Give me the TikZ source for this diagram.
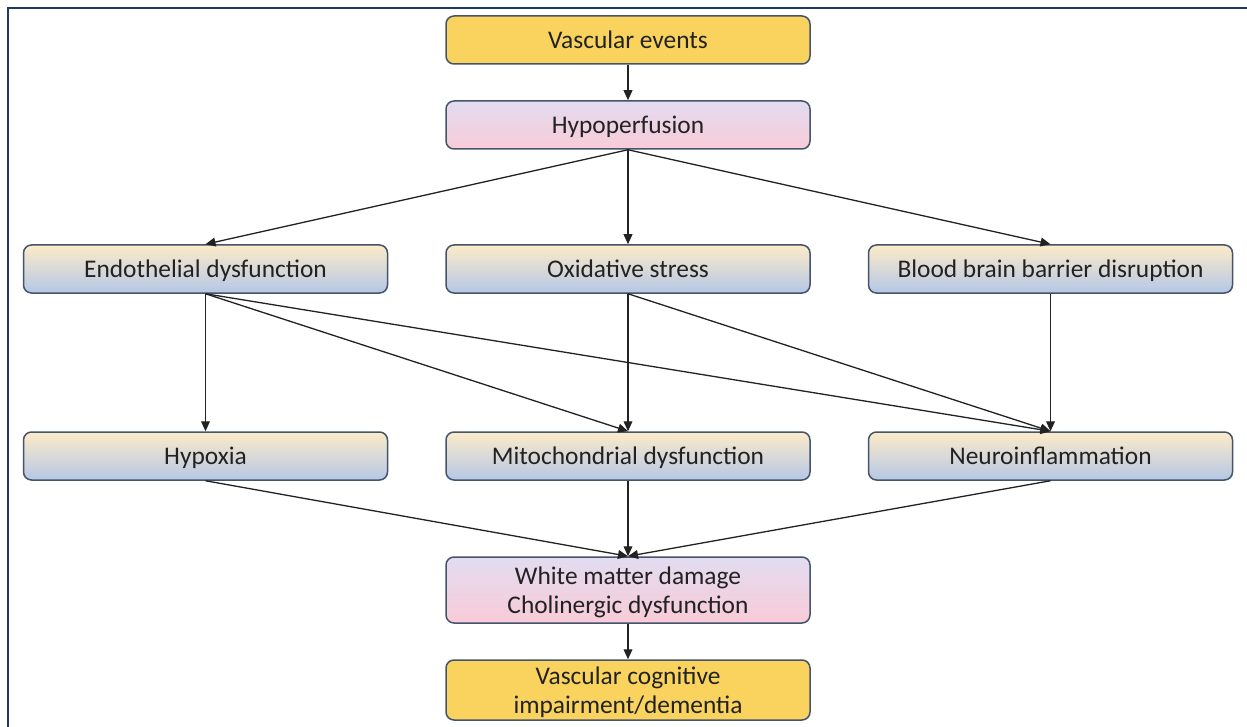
\documentclass[tikz,border=0pt]{standalone}
\usepackage{fontspec}
\setmainfont{Carlito}
\usetikzlibrary{arrows.meta, positioning, calc}
\definecolor{navy}{HTML}{1F3864}
\definecolor{edge}{HTML}{44546A}
\definecolor{ink}{HTML}{222222}
\definecolor{gold}{HTML}{FAD35F}
\definecolor{lilac}{HTML}{E2DCF1}
\definecolor{rose}{HTML}{F9CBD7}
\definecolor{cream}{HTML}{FDEBC9}
\definecolor{steel}{HTML}{B5C7E6}

\begin{document}
\begin{tikzpicture}[x=0.5pt, y=-0.5pt,
      box/.style={draw=edge, line width=0.75pt, rounded corners=4pt, align=center,
        minimum width=182pt, minimum height=24pt, inner sep=2pt, text=ink,
        text height=10pt, text depth=1.5pt,
        font=\fontsize{12.7}{14.5}\selectfont},
      twoline/.style={text height={}, text depth=0pt},
      goldbox/.style={box, fill=gold},
      pinkbox/.style={box, top color=lilac, bottom color=rose},
      bluebox/.style={box, top color=cream, bottom color=steel},
      arr/.style={-{Triangle[length=5pt, width=4.4pt]}, line width=0.65pt, color=ink},
      node distance=17.75pt and 28.5pt]
    \useasboundingbox (0,0) rectangle (1247,727);
    \fill[white] (0,0) rectangle (1247,727);
    \draw[navy, line width=1.3pt] (8,740) -- (8,8) -- (1260,8);
    % top of the chain
    \node[goldbox] (ve) at (628,40) {Vascular events};
    \node[pinkbox, below=of ve] (hp) {Hypoperfusion};
    % first row of mechanisms
    \node[bluebox, below=47.25pt of hp] (ox) {Oxidative stress};
    \node[bluebox, left=of ox] (ed) {Endothelial dysfunction};
    \node[bluebox, right=of ox] (bbb) {Blood brain barrier disruption};
    % second row
    \node[bluebox, below=68.75pt of ox] (mi) {Mitochondrial dysfunction};
    \node[bluebox, left=of mi] (hx) {Hypoxia};
    \node[bluebox, right=of mi] (ni) {Neuroinflammation};
    % outcome
    \node[pinkbox, twoline, below=37.75pt of mi, minimum height=33pt] (wm)
      {White matter damage\\ Cholinergic dysfunction};
    \node[goldbox, twoline, below=of wm, minimum height=30pt] (vci)
      {Vascular cognitive\\ impairment/dementia};
    \draw[arr] (ve) -- (hp);
    \foreach \t in {ed, ox, bbb}
      \draw[arr] (hp.south) -- (\t.north);
    \foreach \t in {hx, mi, ni}
      \draw[arr] (ed.south) -- (\t.north);
    \draw[arr] (ox.south) -- (mi.north);
    \draw[arr] (ox.south) -- (ni.north);
    \draw[arr] (bbb.south) -- (ni.north);
    \foreach \s in {hx, mi, ni}
      \draw[arr] (\s.south) -- (wm.north);
    \draw[arr] (wm) -- (vci);
  \end{tikzpicture}
\end{document}
